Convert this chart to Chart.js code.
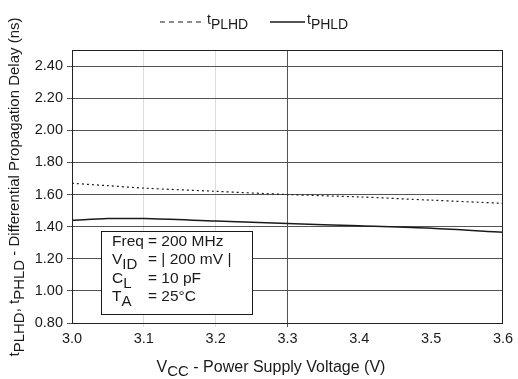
<!DOCTYPE html>
<html>
<head>
<meta charset="utf-8">
<script src="https://cdn.jsdelivr.net/npm/chart.js@4/dist/chart.umd.min.js"></script>
<style>
  html, body { margin: 0; padding: 0; background: #fff; }
  #wrap { width: 518px; height: 379px; }
</style>
</head>
<body>
<div id="wrap"><canvas id="delayChart" width="518" height="379"></canvas></div>
<script>
// supply voltage sweep (V) and measured delays (ns)
const vcc = [3.0, 3.05, 3.1, 3.2, 3.3, 3.4, 3.5, 3.6];
const tPLHD = [1.67, 1.655, 1.64, 1.62, 1.60, 1.585, 1.565, 1.545];
const tPHLD = [1.44, 1.45, 1.45, 1.435, 1.42, 1.405, 1.39, 1.365];
const xTicks = [3.0, 3.1, 3.2, 3.3, 3.4, 3.5, 3.6];
const yTicks = [0.8, 1.0, 1.2, 1.4, 1.6, 1.8, 2.0, 2.2, 2.4];
const conditions = [
    [['Freq', null], ['= 200 MHz', null]],
    [['V', 'ID'], ['= | 200 mV |', null]],
    [['C', 'L'], ['= 10 pF', null]],
    [['T', 'A'], ['= 25°C', null]]
];

const FONT = '"Liberation Sans", Arial, Helvetica, sans-serif';
const INK = '#1a1a1a';

// text runs as [normal, subscript] pairs
function richWidth(ctx, parts, size, subSize) {
    let w = 0;
    parts.forEach(([txt, sub]) => {
        ctx.font = size + 'px ' + FONT;
        w += ctx.measureText(txt).width;
        if (sub) {
            ctx.font = subSize + 'px ' + FONT;
            w += ctx.measureText(sub).width;
        }
    });
    return w;
}

function drawRich(ctx, parts, x, y, size, subSize, drop) {
    parts.forEach(([txt, sub]) => {
        ctx.font = size + 'px ' + FONT;
        ctx.fillText(txt, x, y);
        x += ctx.measureText(txt).width;
        if (sub) {
            ctx.font = subSize + 'px ' + FONT;
            ctx.fillText(sub, x, y + drop);
            x += ctx.measureText(sub).width;
        }
    });
    return x;
}

const decorations = {
    id: 'decorations',
    afterDraw(chart) {
        const { ctx, chartArea: a, scales } = chart;
        ctx.save();
        ctx.fillStyle = INK;
        ctx.textBaseline = 'alphabetic';

        // plot frame
        ctx.strokeStyle = '#222';
        ctx.lineWidth = 1;
        ctx.strokeRect(a.left + 0.5, a.top + 0.5, a.right - a.left - 1, a.bottom - a.top);

        // legend
        const legendY = 24;
        ctx.strokeStyle = INK;
        ctx.lineWidth = 1;
        ctx.setLineDash([5, 4]);
        ctx.beginPath(); ctx.moveTo(160, legendY - 2); ctx.lineTo(204, legendY - 2); ctx.stroke();
        ctx.setLineDash([]);
        drawRich(ctx, [['t', 'PLHD']], 207, legendY, 14, 14, 5);
        ctx.lineWidth = 1.3;
        ctx.beginPath(); ctx.moveTo(270, legendY - 2); ctx.lineTo(305, legendY - 2); ctx.stroke();
        drawRich(ctx, [['t', 'PHLD']], 307, legendY, 14, 14, 5);

        // x axis title
        const xParts = [['V', 'CC'], [' - Power Supply Voltage (V)', null]];
        const xw = richWidth(ctx, xParts, 16, 15);
        drawRich(ctx, xParts, 271 - xw / 2, 372, 16, 15, 4);

        // y axis title
        const yParts = [['t', 'PLHD'], [', t', 'PHLD'], [' - Differential Propagation Delay (ns)', null]];
        const yw = richWidth(ctx, yParts, 15, 15);
        ctx.save();
        ctx.translate(19, 187);
        ctx.rotate(-Math.PI / 2);
        drawRich(ctx, yParts, -yw / 2, 0, 15, 15, 5);
        ctx.restore();

        // test conditions box
        const bx = Math.round(scales.x.getPixelForValue(3.0404));
        const by = Math.round(scales.y.getPixelForValue(1.3705));
        const bw = Math.round(scales.x.getPixelForValue(3.2507)) - bx;
        const bh = Math.round(scales.y.getPixelForValue(0.856)) - by;
        ctx.fillStyle = '#fff';
        ctx.fillRect(bx, by, bw, bh);
        ctx.strokeStyle = INK;
        ctx.lineWidth = 1;
        ctx.strokeRect(bx + 0.5, by + 0.5, bw, bh);
        ctx.fillStyle = INK;
        conditions.forEach((row, i) => {
            const ty = by + 15 + i * 18.3;
            drawRich(ctx, [row[0]], bx + 11, ty, 15.5, 15, 5);
            drawRich(ctx, [row[1]], bx + 47, ty, 15.5, 15, 5);
        });
        ctx.restore();
    }
};

new Chart(document.getElementById('delayChart'), {
    type: 'line',
    data: {
        datasets: [{
            label: 'tPLHD',
            data: vcc.map((v, i) => ({ x: v, y: tPLHD[i] })),
            borderColor: INK,
            borderWidth: 1.2,
            borderDash: [2, 3],
            pointRadius: 0,
            tension: 0.3
        }, {
            label: 'tPHLD',
            data: vcc.map((v, i) => ({ x: v, y: tPHLD[i] })),
            borderColor: INK,
            borderWidth: 1.5,
            pointRadius: 0,
            tension: 0.3
        }]
    },
    options: {
        responsive: false,
        animation: false,
        layout: { padding: { left: 28, right: 15, top: 50, bottom: 26 } },
        plugins: {
            legend: { display: false },
            tooltip: { enabled: false }
        },
        scales: {
            x: {
                type: 'linear',
                min: 3.0,
                max: 3.6,
                afterFit: (s) => { s.height = 30; },
                afterBuildTicks: (s) => {
                    s.ticks = xTicks.map(v => ({ value: v }));
                },
                border: { display: false },
                grid: {
                    color: (c) => {
                        const v = Math.round(c.tick.value * 10) / 10;
                        if (v === 3.1 || v === 3.2) return '#dcdcdc';
                        if (v === 3.3) return '#555';
                        return 'rgba(0,0,0,0)';
                    },
                    tickLength: 4
                },
                ticks: {
                    color: INK,
                    padding: 3,
                    font: { family: FONT, size: 14.5 },
                    callback: (v) => Number(v).toFixed(1)
                }
            },
            y: {
                min: 0.8,
                max: 2.5,
                afterFit: (s) => { s.width = 44; },
                afterBuildTicks: (s) => {
                    s.ticks = yTicks.map(v => ({ value: v }));
                },
                border: { display: false },
                grid: { color: '#555', tickLength: 5 },
                ticks: {
                    color: INK,
                    padding: 4,
                    font: { family: FONT, size: 14.5 },
                    callback: (v) => Number(v).toFixed(2)
                }
            }
        }
    },
    plugins: [decorations]
});
</script>
</body>
</html>
